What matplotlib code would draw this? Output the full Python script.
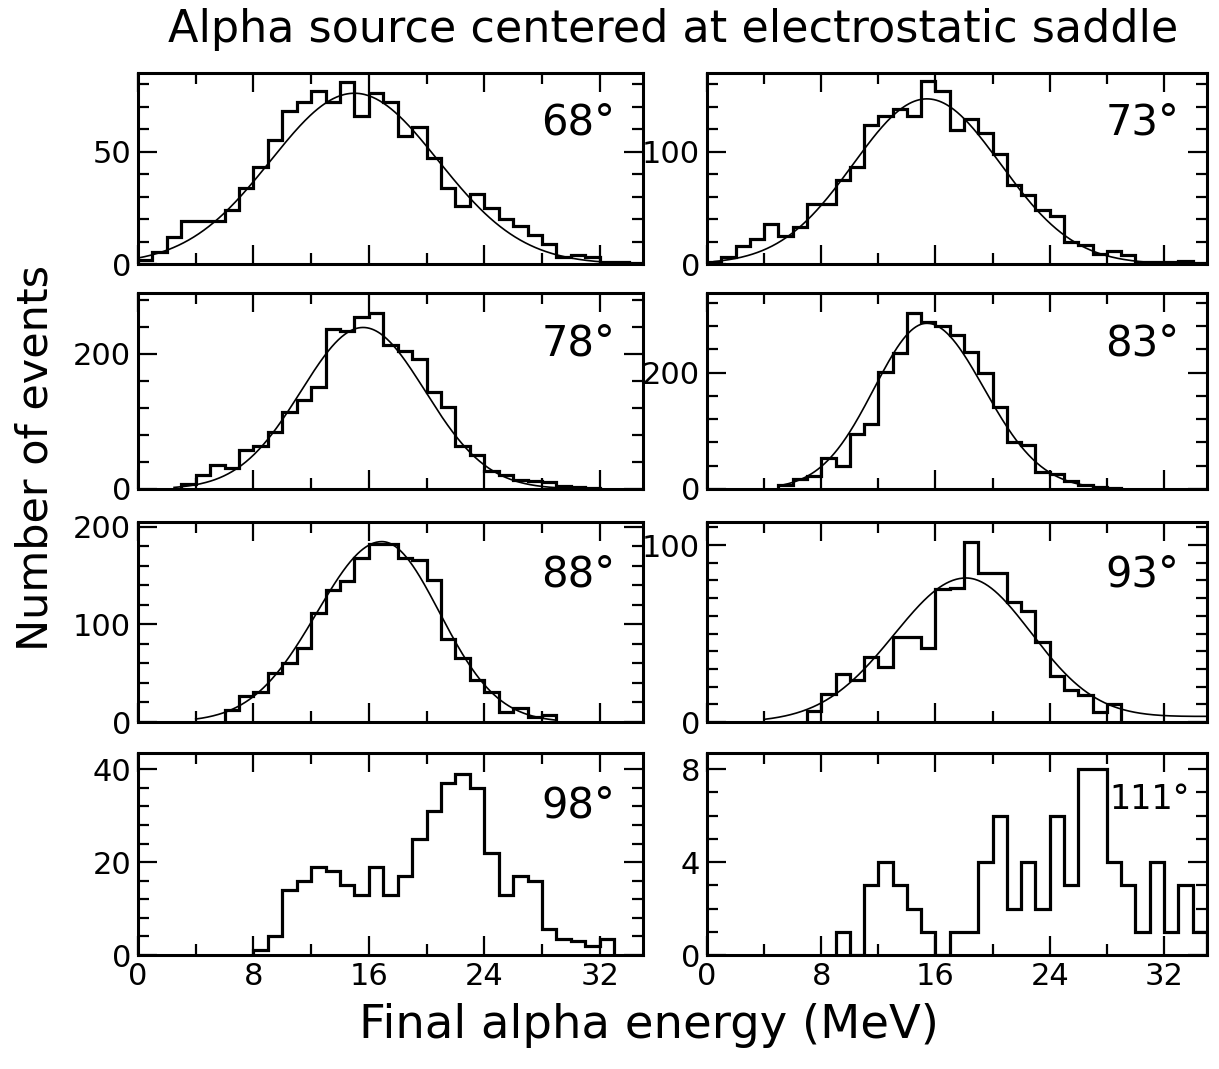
import numpy as np
import matplotlib
matplotlib.use('Agg')
import matplotlib.pyplot as plt
from matplotlib.ticker import MultipleLocator, FixedLocator

plt.rcParams['font.family'] = ['DejaVu Sans']

# angle labels, left-to-right then top-to-bottom
angles = ["68°", "73°", "78°", "83°", "88°", "93°", "98°", "111°"]

# first bin edge (MeV) of each histogram, bins are 1 MeV wide
starts = [0, 0, 3, 5, 6, 7, 8, 9]

counts_68 = [2, 5.5, 12, 19, 19, 19, 24, 34, 43, 55, 68, 72, 77, 72, 81, 66, 76, 72,
             57, 61, 47, 34, 26, 31, 25, 20, 17, 13, 9, 3, 4, 3, 1, 1, 0.5]
counts_73 = [1.5, 6, 16, 22, 36, 25, 33, 53, 53, 75, 86, 124, 132, 138, 132, 163, 154,
             119, 129, 117, 98, 70, 61, 48, 43, 20, 17, 9, 12, 8, 2, 2, 1.5, 3, 1]
counts_78 = [7, 21, 35, 31, 57, 63, 84, 114, 131, 151, 237, 234, 254, 261, 213, 204,
             192, 143, 122, 63, 50, 26, 20, 14, 12, 11, 4, 3, 2]
counts_83 = [6, 17, 23, 53, 40, 95, 112, 202, 233, 303, 288, 280, 265, 236, 199, 141,
             81, 75, 30, 26, 13, 7, 4, 1]
counts_88 = [12, 27, 31, 50, 60, 76, 112, 135, 145, 168, 183, 183, 168, 166, 146, 85,
             66, 43, 31, 10, 14, 5, 7.5]
counts_93 = [6.5, 16, 27, 24, 37, 31, 48, 48, 42, 75, 76, 102, 84, 84, 68, 63, 45, 26,
             18, 15.5, 5.6, 10.3]
counts_98 = [1, 4, 14, 16, 19, 18, 15, 13, 19, 13, 17, 25, 31, 37, 39, 36, 22, 13, 17,
             16, 5.5, 3.5, 3, 2, 3.5]
counts_111 = [1, 0, 3, 4, 3, 2, 1, 0, 1, 1, 4, 6, 2, 4, 2, 6, 3, 8, 8, 4, 3, 1, 4, 1, 3, 1]
counts = [counts_68, counts_73, counts_78, counts_83, counts_88, counts_93,
          counts_98, counts_111]

# fitted curves: amplitude, centre (MeV), sigma below / above centre,
# linear background slope, drawn range
fit_amp = [76, 147, 239, 285, 185, 80]
fit_mu = [15.0, 15.4, 15.6, 15.4, 16.9, 18.1]
fit_sig_lo = [5.8, 5.15, 4.3, 3.7, 4.5, 5.0]
fit_sig_hi = [5.8, 5.15, 4.3, 4.0, 4.0, 4.6]
fit_bg = [0, 0, 0, 0, 0, 0.1]
fit_lo = [0, 0.5, 2.5, 5, 4, 4]
fit_hi = [35, 35, 33, 28, 29, 35]

y_max = [85, 170, 290, 337, 205, 113, 43.5, 8.7]
y_major = [[0, 50], [0, 100], [0, 200], [0, 200], [0, 100, 200], [0, 100],
           [0, 20, 40], [0, 4, 8]]
y_minor = [10, 20, 40, 40, 20, 10, 4, 1]

# angle label placement (axes fraction, right edge) and size
label_x = [0.945, 0.945, 0.945, 0.945, 0.945, 0.945, 0.945, 0.966]
label_y = [0.74, 0.74, 0.74, 0.74, 0.74, 0.74, 0.74, 0.77]
label_size = [30, 30, 30, 30, 30, 30, 30, 24]

fig = plt.figure(figsize=(12.19, 10.69), dpi=100)

col_x = [0.1132, 0.580]
col_w = [0.4143, 0.410]
row_b = [0.753, 0.5426, 0.3246, 0.1066]
row_h = [0.1787, 0.1833, 0.187, 0.189]

for i in range(8):
    r, c = divmod(i, 2)
    ax = fig.add_axes([col_x[c], row_b[r], col_w[c], row_h[r]])
    vals = np.array(counts[i], dtype=float)
    edges = np.arange(starts[i], starts[i] + len(vals) + 1)
    ax.stairs(vals, edges, baseline=0, color='black', linewidth=2.3)

    if i < 6:
        x = np.linspace(fit_lo[i], fit_hi[i], 400)
        sig = np.where(x < fit_mu[i], fit_sig_lo[i], fit_sig_hi[i])
        y = fit_amp[i] * np.exp(-(x - fit_mu[i]) ** 2 / (2 * sig ** 2))
        y = y + fit_bg[i] * (x - fit_lo[i])
        ax.plot(x, y, color='black', linewidth=1.2)

    ax.set_xlim(0, 35)
    ax.set_ylim(0, y_max[i])
    ax.xaxis.set_major_locator(MultipleLocator(8))
    ax.xaxis.set_minor_locator(MultipleLocator(4))
    ax.yaxis.set_major_locator(FixedLocator(y_major[i]))
    ax.yaxis.set_minor_locator(MultipleLocator(y_minor[i]))
    ax.tick_params(which='both', direction='in', top=True, right=True, width=1.6,
                   labelsize=22)
    ax.tick_params(which='major', length=14, pad=5)
    ax.tick_params(which='minor', length=8)
    if r < 3:
        ax.tick_params(labelbottom=False)
    for s in ax.spines.values():
        s.set_linewidth(2.2)

    ax.text(label_x[i], label_y[i], angles[i], transform=ax.transAxes, ha='right',
            va='center', fontsize=label_size[i])

fig.text(0.552, 0.972, "Alpha source centered at electrostatic saddle",
         ha='center', va='center', fontsize=32)
fig.text(0.532, 0.041, "Final alpha energy (MeV)", ha='center', va='center',
         fontsize=33.5)
fig.text(0.029, 0.572, "Number of events", ha='center', va='center', rotation=90,
         fontsize=31)

fig.savefig("out.png", dpi=100)
